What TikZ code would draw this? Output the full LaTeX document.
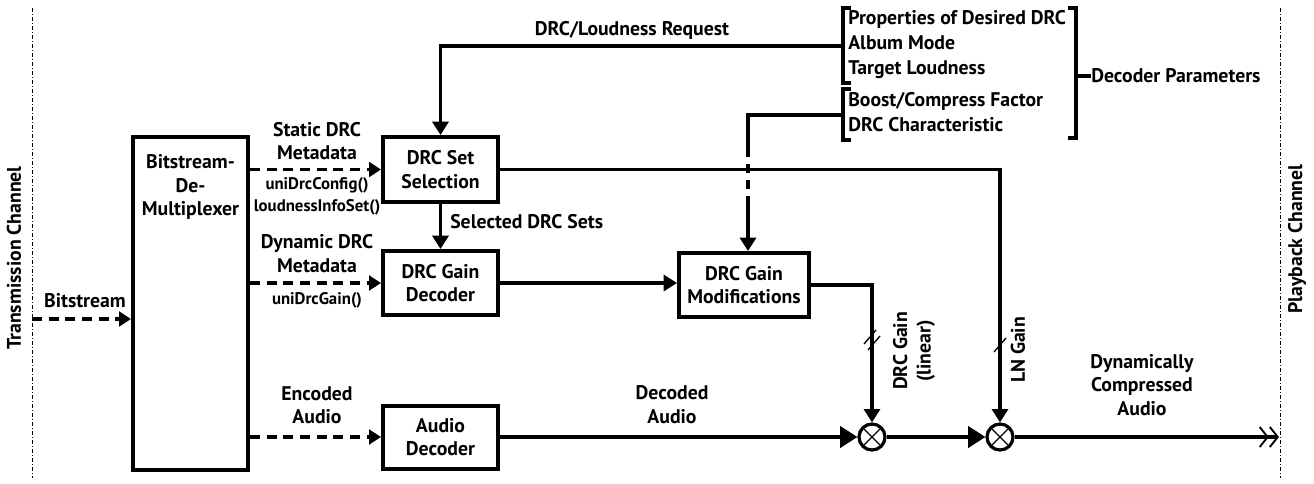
\documentclass[tikz,border=0pt]{standalone}
\usepackage{fontspec}
\setmainfont{PT Sans}
\usetikzlibrary{arrows.meta,calc}

\begin{document}
\begin{tikzpicture}[x=0.75pt,y=-0.75pt,
    font=\bfseries\fontsize{14.8}{17.5}\selectfont,
    block/.style={draw, line width=3pt, align=center, inner sep=0pt},
    line/.style={line width=2.4pt},
    arr/.style={line, -{Triangle[length=10pt,width=12pt]}},
    bigarr/.style={line, -{Triangle[length=13pt,width=16pt]}},
    dasharr/.style={line, dash pattern=on 7.5pt off 5pt, -{Triangle[length=9pt,width=11pt]}},
    chan/.style={line width=0.75pt, dash pattern=on 3pt off 1.5pt on 0.75pt off 1.5pt},
    mult/.style={circle, draw, line width=2.4pt, minimum size=19.5pt, inner sep=0pt},
    slash/.style={line width=1pt},
    small/.style={font=\bfseries\fontsize{12.6}{17}\selectfont},
    grp/.style={align=left, anchor=west, font=\bfseries\fontsize{14.8}{18.75}\selectfont},
    lbl/.style={align=center, inner sep=0pt}
  ]
  \useasboundingbox (0,0) rectangle (1314,483);

  % channel borders
  \draw[chan] (32,8) -- (32,478);
  \draw[chan] (1280,8) -- (1280,478);
  \node[lbl, rotate=90] (tx) at (14,258) {Transmission Channel};
  \node[lbl, rotate=90] (pb) at (1297,239) {Playback Channel};

  % blocks
  \node[block, minimum width=86.25pt, minimum height=249.75pt] (demux) at (190.5,303.5) {};
  \node[lbl] (demuxtxt) at (190.5,187) {Bitstream-\\De-\\Multiplexer};
  \node[block, minimum width=86.25pt, minimum height=48.75pt] (sel) at (440.5,169.5) {DRC Set\\Selection};
  \node[block, minimum width=86.25pt, minimum height=48pt] (gdec) at (440.5,283) {DRC Gain\\Decoder};
  \node[block, minimum width=97.5pt, minimum height=48pt] (mods) at (744,285) {DRC Gain\\Modifications};
  \node[block, minimum width=86.25pt, minimum height=47.25pt] (adec) at (440.5,437) {Audio\\Decoder};
  \node[mult] (m1) at (872,437) {};
  \node[mult] (m2) at (1000,437) {};
  \draw[slash] ($(m1)+(-8,-8)$) -- ($(m1)+(8,8)$) ($(m1)+(-8,8)$) -- ($(m1)+(8,-8)$);
  \draw[slash] ($(m2)+(-8,-8)$) -- ($(m2)+(8,8)$) ($(m2)+(-8,8)$) -- ($(m2)+(8,-8)$);

  % decoder parameters
  \node[lbl, grp] (props) at (848,45) {Properties of Desired DRC\\Album Mode\\Target Loudness};
  \node[lbl, grp] (tune) at (848,112) {Boost/Compress Factor\\DRC Characteristic};
  \draw[line] (851,8) -- (843,8) -- (843,83) -- (851,83);
  \draw[line] (851,89) -- (843,89) -- (843,140) -- (851,140);
  \draw[line] (1068,8) -- (1076,8) -- (1076,138) -- (1068,138);
  \node[lbl, anchor=west] (dp) at (1091,76) {Decoder Parameters};
  \coordinate (rbr) at (1076,76);
  \draw[line] (rbr) -- (dp.west);

  % bitstream paths
  \coordinate (bsin) at (32,319);
  \draw[dasharr] (bsin) -- (bsin -| demux.west);
  \node[lbl] (bslbl) at (85,301) {Bitstream};
  \draw[dasharr] (sel.west -| demux.east) -- (sel.west);
  \node[lbl] (stat) at (317,141) {Static DRC\\Metadata};
  \node[lbl, small] (statfn) at (317,196.5) {uniDrcConfig()\\loudnessInfoSet()};
  \draw[dasharr] (gdec.west -| demux.east) -- (gdec.west);
  \node[lbl] (dyn) at (317,253.5) {Dynamic DRC\\Metadata};
  \node[lbl, small] (dynfn) at (317,300) {uniDrcGain()};
  \draw[dasharr] (adec.west -| demux.east) -- (adec.west);
  \node[lbl] (enc) at (317,405.5) {Encoded\\Audio};

  % control paths
  \coordinate (req) at (843,46);
  \draw[arr] (req) -| (sel.north);
  \node[lbl] (reqlbl) at (632,30) {DRC/Loudness Request};
  \draw[arr] (sel.south) -- (gdec.north);
  \node[lbl, anchor=west] (sellbl) at (450,222) {Selected DRC Sets};
  \draw[arr] (gdec.east) -- (gdec.east -| mods.west);
  \coordinate (boost) at (843,115);
  \coordinate (hopA) at (748,148);
  \coordinate (hopB) at (748,200);
  \draw[line] (boost) -| (hopA);
  \draw[line, dash pattern=on 7pt off 5pt] (hopA) -- (hopB);
  \draw[arr] (hopB) -- (hopB |- mods.north);
  \draw[arr] (sel.east) -| (m2.north);
  \draw[arr] (mods.east) -| (m1.north);

  % audio path
  \draw[bigarr] (adec.east) -- (m1.west);
  \node[lbl] (declbl) at (672,404.5) {Decoded\\Audio};
  \draw[bigarr] (m1.east) -- (m2.west);
  \coordinate (out) at (1279,437);
  \draw[line, -{Straight Barb[length=6pt,width=15pt,line width=1.4pt] Straight Barb[length=6pt,width=15pt,line width=1.4pt]}] (m2.east) -- (out);
  \node[lbl] (outlbl) at (1142,385) {Dynamically\\Compressed\\Audio};

  % gain labels
  \draw[slash] (864,344) -- (876,330) (868,350) -- (880,336);
  \draw[slash] (994,352) -- (1006,338);
  \node[lbl, rotate=90] (drcg) at (914,351) {DRC Gain\\(linear)};
  \node[lbl, rotate=90] (lng) at (1018,350) {LN Gain};
\end{tikzpicture}
\end{document}
